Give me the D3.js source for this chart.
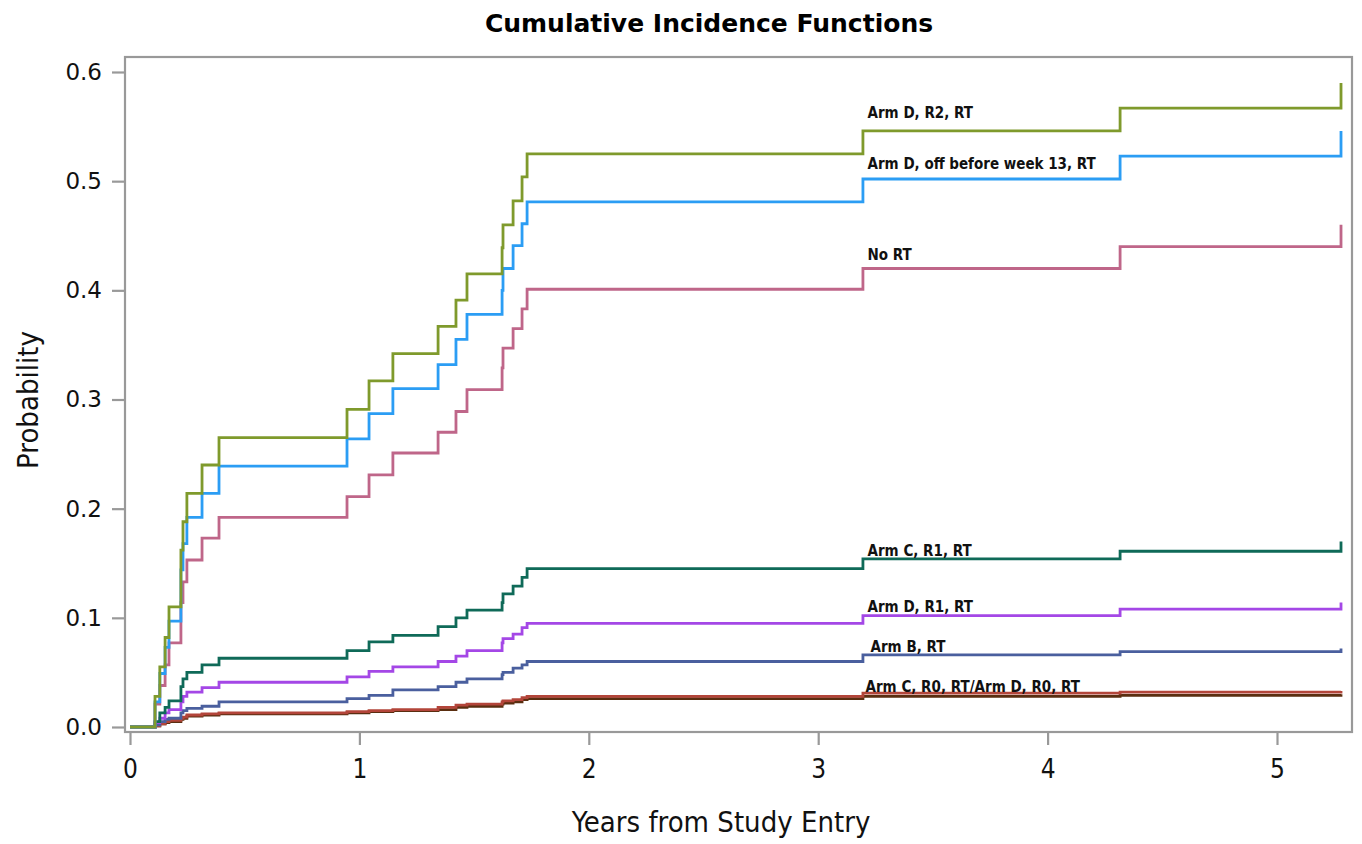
<!DOCTYPE html>
<html>
<head>
<meta charset="utf-8">
<script src="https://cdn.jsdelivr.net/npm/d3@7"></script>
<style>
  body { margin: 0; background: #fff; }
  svg { display: block; }
</style>
</head>
<body>
<svg id="chart" width="1362" height="844"></svg>
<script>
// step times (years) shared by all curves
const times = [0, 0.109, 0.13, 0.153, 0.17, 0.222, 0.231, 0.248, 0.314, 0.388, 0.946, 1.042, 1.146,
  1.343, 1.421, 1.469, 1.622, 1.626, 1.67, 1.709, 1.731, 3.195, 4.316, 5.279];

// cumulative incidence after each step
const armD_R2 = [0, 0.028, 0.055, 0.082, 0.11, 0.162, 0.188, 0.214, 0.24, 0.265, 0.291, 0.317, 0.342,
  0.367, 0.391, 0.415, 0.439, 0.46, 0.482, 0.504, 0.525, 0.546, 0.567, 0.59];
const armD_off = [0, 0.023, 0.049, 0.073, 0.097, 0.144, 0.168, 0.192, 0.214, 0.239, 0.264, 0.287, 0.31,
  0.332, 0.355, 0.378, 0.40, 0.42, 0.441, 0.461, 0.481, 0.502, 0.523, 0.546];
const noRT = [0, 0.021, 0.038, 0.057, 0.077, 0.114, 0.133, 0.153, 0.173, 0.192, 0.211, 0.231, 0.251,
  0.27, 0.289, 0.309, 0.329, 0.347, 0.365, 0.383, 0.401, 0.42, 0.44, 0.46];
const armC_R1 = [0, 0.005, 0.013, 0.018, 0.024, 0.037, 0.044, 0.05, 0.057, 0.063, 0.07, 0.078, 0.084,
  0.092, 0.10, 0.107, 0.114, 0.122, 0.129, 0.137, 0.145, 0.154, 0.161, 0.17];
const armD_R1 = [0, 0.004, 0.008, 0.013, 0.016, 0.023, 0.028, 0.032, 0.036, 0.041, 0.046, 0.051, 0.055,
  0.06, 0.065, 0.07, 0.077, 0.081, 0.085, 0.091, 0.095, 0.102, 0.108, 0.114];
const armB = [0, 0.002, 0.005, 0.007, 0.008, 0.013, 0.015, 0.017, 0.019, 0.023, 0.026, 0.029, 0.034,
  0.037, 0.041, 0.044, 0.048, 0.05, 0.054, 0.057, 0.06, 0.066, 0.069, 0.072];
const armC_R0 = [0, 0.001, 0.003, 0.005, 0.006, 0.008, 0.009, 0.011, 0.012, 0.013, 0.014, 0.015, 0.016,
  0.018, 0.02, 0.021, 0.023, 0.024, 0.025, 0.027, 0.028, 0.031, 0.032, 0.033];
const armD_R0 = [0, 0.001, 0.003, 0.004, 0.005, 0.007, 0.008, 0.01, 0.011, 0.012, 0.013, 0.014, 0.015,
  0.016, 0.018, 0.019, 0.021, 0.022, 0.023, 0.025, 0.026, 0.028, 0.029, 0.03];

const xTicks = [0, 1, 2, 3, 4, 5];
const yTicks = [0, 0.1, 0.2, 0.3, 0.4, 0.5, 0.6];

const series = [
  { values: armD_R0, color: "#5a2e10" },
  { values: armC_R0, color: "#b3453a" },
  { values: armB, color: "#4a5f9e" },
  { values: armD_R1, color: "#a447e6" },
  { values: armC_R1, color: "#0f6a58" },
  { values: noRT, color: "#bf6689" },
  { values: armD_off, color: "#2b9df4" },
  { values: armD_R2, color: "#7f9a2c" }
];

// curve labels (text, and the value the label sits above)
const labels = [
  { text: "Arm D, R2, RT", y: 0.558, dx: 0 },
  { text: "Arm D, off before week 13, RT", y: 0.511, dx: 0 },
  { text: "No RT", y: 0.428, dx: 0 },
  { text: "Arm C, R1, RT", y: 0.157, dx: 0 },
  { text: "Arm D, R1, RT", y: 0.105, dx: 0 },
  { text: "Arm B, RT", y: 0.069, dx: 3 },
  { text: "Arm C, R0, RT/Arm D, R0, RT", y: 0.032, dx: -2 }
];

const svg = d3.select("#chart");
const frame = { left: 125, right: 1352, top: 57, bottom: 732 };

const x = d3.scaleLinear().domain([0, 5]).range([130, 1277]);
const y = d3.scaleLinear().domain([0, 0.6]).range([727, 72]);

// frame
svg.append("rect")
  .attr("x", frame.left).attr("y", frame.top)
  .attr("width", frame.right - frame.left).attr("height", frame.bottom - frame.top)
  .attr("fill", "none").attr("stroke", "#999").attr("stroke-width", 2.2);

// y axis
const yAxis = svg.append("g")
  .attr("transform", `translate(${frame.left},0)`)
  .call(d3.axisLeft(y).tickValues(yTicks).tickFormat(d3.format(".1f")).tickSize(13).tickPadding(10));
yAxis.select(".domain").remove();
yAxis.selectAll("line").attr("stroke", "#999").attr("stroke-width", 2.2);
yAxis.selectAll("text").attr("font-family", "DejaVu Sans").attr("font-size", 23).attr("fill", "#111");

// x axis
const xAxis = svg.append("g")
  .attr("transform", `translate(0,${frame.bottom})`)
  .call(d3.axisBottom(x).tickValues(xTicks).tickFormat(d3.format("d")).tickSize(13).tickPadding(15));
xAxis.select(".domain").remove();
xAxis.selectAll("line").attr("stroke", "#999").attr("stroke-width", 2.2);
xAxis.selectAll("text").attr("font-family", "DejaVu Sans Condensed").attr("font-size", 26).attr("fill", "#111");

// curves
const line = d3.line()
  .x((d, i) => x(times[i]))
  .y(d => y(d))
  .curve(d3.curveStepAfter);

svg.append("g").selectAll("path")
  .data(series)
  .join("path")
  .attr("d", d => line(d.values))
  .attr("fill", "none")
  .attr("stroke", d => d.color)
  .attr("stroke-width", 2.8);

// labels
svg.append("g").selectAll("text")
  .data(labels)
  .join("text")
  .attr("x", d => x(3.215) + d.dx)
  .attr("y", d => y(d.y))
  .attr("font-family", "DejaVu Sans Condensed")
  .attr("font-weight", "bold")
  .attr("font-size", 15)
  .attr("fill", "#111")
  .text(d => d.text);

// titles
svg.append("text")
  .attr("x", 709).attr("y", 32)
  .attr("text-anchor", "middle")
  .attr("font-family", "DejaVu Sans")
  .attr("font-weight", "bold")
  .attr("font-size", 25)
  .text("Cumulative Incidence Functions");

svg.append("text")
  .attr("x", 721).attr("y", 832)
  .attr("text-anchor", "middle")
  .attr("font-family", "DejaVu Sans Condensed")
  .attr("font-size", 29)
  .attr("fill", "#111")
  .text("Years from Study Entry");

svg.append("text")
  .attr("transform", "translate(38,400) rotate(-90)")
  .attr("text-anchor", "middle")
  .attr("font-family", "DejaVu Sans Condensed")
  .attr("font-size", 29)
  .attr("fill", "#111")
  .text("Probability");
</script>
</body>
</html>
